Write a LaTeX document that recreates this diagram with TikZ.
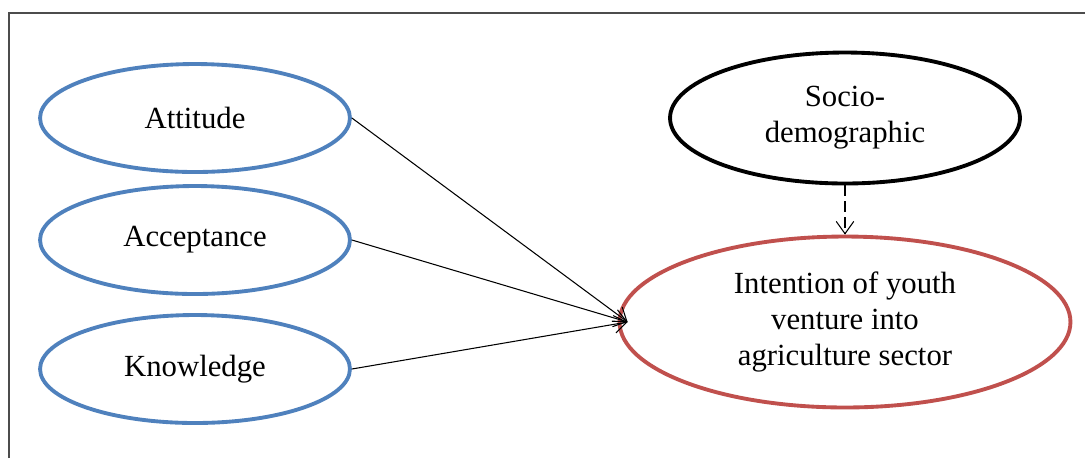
\documentclass[tikz,border=0pt]{standalone}
\usepackage{fontspec}
\setmainfont{Liberation Serif}
\usetikzlibrary{shapes.geometric,arrows.meta}
\definecolor{ovalblue}{RGB}{79,129,189}
\definecolor{ovalred}{RGB}{192,80,77}
\tikzset{
  factor/.style={ellipse,draw=ovalblue,line width=2.2pt,inner sep=0pt,minimum width=6.2cm,minimum height=2.16cm,align=center},
  link/.style={line width=0.6pt,-{Straight Barb[length=7pt,width=10pt]}}
}
\begin{document}
\begin{tikzpicture}[x=0.02cm,y=-0.02cm,font=\fontsize{17.5}{20.5}\selectfont]
\useasboundingbox (0,0) rectangle (1085,458);
\draw[line width=0.9pt,black!70] (9,458) -- (9,13) -- (1085,13);
\node[factor] (att) at (195,118) {Attitude};
\node[factor] (acc) at (195,240) {Acceptance};
\node[factor] (kno) at (195,369) {Knowledge};
\node[ellipse,draw,line width=2.2pt,inner sep=0pt,minimum width=7cm,minimum height=2.62cm,align=center] (soc) at (845,118) {Socio-\\demographic};
\node[ellipse,draw=ovalred,line width=2.2pt,inner sep=0pt,minimum width=9.02cm,minimum height=3.42cm,align=center] (int) at (845,322) {Intention of youth\\venture into\\agriculture sector};
\coordinate (hit) at ([xshift=0.2cm]int.west);
\draw[link] (att.east) -- (hit);
\draw[link] (acc.east) -- (hit);
\draw[link] (kno.east) -- (hit);
\draw[link,dash pattern=on 6pt off 3pt] (soc.south) -- (int.north);
\end{tikzpicture}
\end{document}
